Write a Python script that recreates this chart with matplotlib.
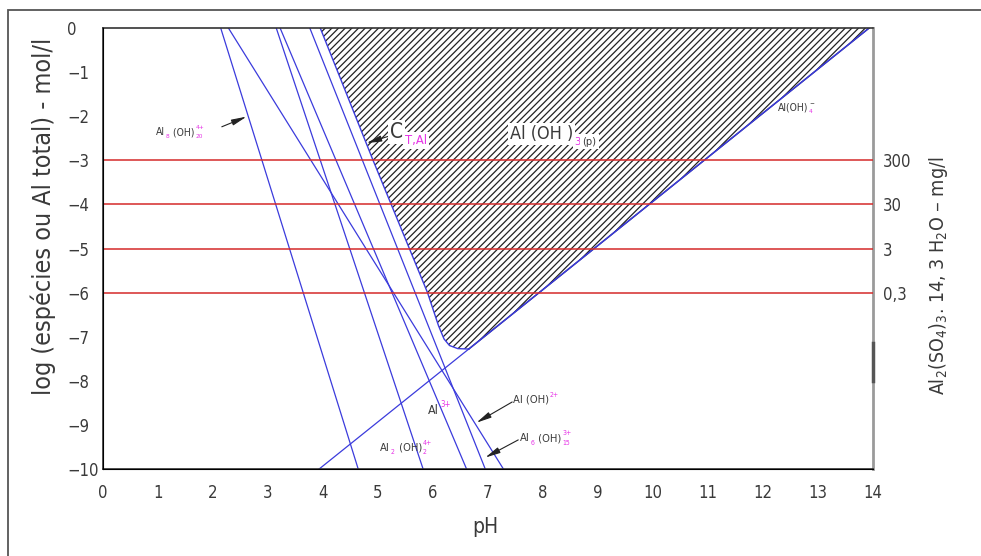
import matplotlib.pyplot as plt
from matplotlib import transforms, font_manager
from matplotlib.patches import Rectangle

names = {f.name for f in font_manager.fontManager.ttflist}
font = 'Liberation Sans Narrow' if 'Liberation Sans Narrow' in names else 'DejaVu Sans'
plt.rcParams['font.family'] = [font, 'DejaVu Sans']
plt.rcParams['font.stretch'] = 'condensed'
plt.rcParams['mathtext.default'] = 'regular'
plt.rcParams['hatch.linewidth'] = 0.9

# pH onde cada linha corta log = 0 e log = -10
ends_log = [0, -10]
al8_ph = [2.14, 4.64]
aloh_ph = [2.28, 7.28]
al2_ph = [3.15, 5.82]
al3_ph = [3.22, 6.61]
al6_ph = [3.76, 6.95]
aloh4_ph = [3.93, 13.93]
aloh4_log = [-10, 0]

# curva C_T,Al (limite da zona Al(OH)3)
ct_ph = [3.95, 4.91, 5.9, 6.1, 6.2, 6.3, 6.45, 6.65, 13.93]
ct_log = [0, -3, -6, -6.75, -7.05, -7.2, -7.27, -7.28, 0]

red_levels = [-3, -4, -5, -6]
red_labels = ['300', '30', '3', '0,3']

xticks = list(range(0, 15))
yticks = list(range(0, -11, -1))

blue = '#3b3bdc'
navy = '#26268c'
red = '#d42a2a'
txt = '#3a3a3a'
mag = '#e632e6'

fig = plt.figure(figsize=(9.81, 5.56), dpi=100)
ax = fig.add_axes([103 / 981, 87 / 556, 770 / 981, 441 / 556])
ax.set_xlim(0, 14)
ax.set_ylim(-10, 0)

ax.fill(ct_ph, ct_log, facecolor='none', edgecolor='#222222', hatch='/////', lw=0, zorder=1)
ax.plot(ct_ph[:-1], ct_log[:-1], color=blue, lw=1, zorder=2)
ax.plot(ct_ph[-2:], ct_log[-2:], color=navy, lw=1.1, zorder=2)

for ph in [al8_ph, aloh_ph, al2_ph, al3_ph, al6_ph]:
    ax.plot(ph, ends_log, color=blue, lw=0.9, zorder=2)
ax.plot(aloh4_ph, aloh4_log, color=blue, lw=0.9, zorder=2)

ax.hlines(red_levels, 0, 14, color=red, lw=1.1, zorder=3)

ax.set_xticks(xticks)
ax.set_yticks(yticks)
ax.tick_params(length=0, labelsize=12, labelcolor=txt)
ax.tick_params(axis='x', pad=11)
ax.tick_params(axis='y', pad=26)
for lab in ax.get_yticklabels():
    lab.set_horizontalalignment('left')

for s in ['left', 'bottom', 'top']:
    ax.spines[s].set_color('#333333')
    ax.spines[s].set_linewidth(1.2)
ax.spines['right'].set_color('#9a9a9a')
ax.spines['right'].set_linewidth(2)
ax.plot([14, 14], [-7.15, -8.0], color='#555555', lw=2.5, clip_on=False, zorder=5)

ax2 = ax.twinx()
ax2.set_ylim(-10, 0)
ax2.set_yticks(red_levels, red_labels)
ax2.tick_params(length=0, labelsize=12, labelcolor=txt, pad=7)
ax2.spines['right'].set_visible(False)
ax2.spines['top'].set_visible(False)

fig.text(43 / 981, 1 - 216 / 556, 'log (espécies ou Al total) - mol/l', rotation=90,
         ha='center', va='center', fontsize=18, color=txt)
fig.text(938 / 981, 1 - 276 / 556, 'Al$_2$(SO$_4$)$_3$. 14, 3 H$_2$O – mg/l', rotation=90,
         ha='center', va='center', fontsize=14, color=txt)
fig.text(485 / 981, 1 - 527 / 556, 'pH', ha='center', va='center', fontsize=15, color=txt)

fig.add_artist(Rectangle((8 / 981, -0.05), 2, 1.05 - 10 / 556, transform=fig.transFigure,
                         fill=False, ec='#555555', lw=1.3))

r = fig.canvas.get_renderer()


def chem(x, y, parts, fs, box=False):
    dx = 0
    for text, pos, col in parts:
        hold = pos.endswith('*')
        pos = pos.rstrip('*')
        size = fs if pos == 'n' else fs * 0.62
        dy = {'n': 0, 'b': -0.3 * fs, 'p': 0.55 * fs}[pos]
        tr = transforms.offset_copy(ax.transData, fig=fig, x=dx, y=dy, units='points')
        t = ax.text(x, y, text, transform=tr, fontsize=size, color=col,
                    ha='left', va='baseline', zorder=6)
        if box:
            t.set_bbox(dict(facecolor='white', edgecolor='none', pad=1.5))
        if not hold:
            dx += t.get_window_extent(r).width * 72 / fig.dpi + 0.08 * fs


chem(0.96, -2.43, [('Al', 'n', txt), ('8', 'b', mag), (' (OH)', 'n', txt),
                   ('4+', 'p*', mag), ('20', 'b', mag)], 7.5)
chem(5.22, -2.49, [('C', 'n', txt), ('T,Al', 'b', mag)], 15, box=True)
chem(7.4, -2.52, [('Al (OH )', 'n', txt), ('3', 'b', mag), ('(p)', 'b', txt)], 13, box=True)
chem(12.27, -1.86, [('Al(OH)', 'n', txt), ('−', 'p*', txt), ('4', 'b', mag)], 7.5)
chem(5.91, -8.75, [('Al', 'n', txt), ('3+', 'p', mag)], 9)
chem(5.04, -9.59, [('Al', 'n', txt), ('2', 'b', mag), (' (OH)', 'n', txt),
                   ('4+', 'p*', mag), ('2', 'b', mag)], 8)
chem(7.45, -8.5, [('Al (OH)', 'n', txt), ('2+', 'p', mag)], 8)
chem(7.58, -9.37, [('Al', 'n', txt), ('6', 'b', mag), (' (OH)', 'n', txt),
                   ('3+', 'p*', mag), ('15', 'b', mag)], 8)

arrows = [((2.16, -2.24), (2.61, -2.01)),
          ((5.18, -2.46), (4.79, -2.61)),
          ((7.44, -8.48), (6.79, -8.95)),
          ((7.55, -9.34), (6.95, -9.74))]
for tail, tip in arrows:
    ax.annotate('', xy=tip, xytext=tail,
                arrowprops=dict(arrowstyle='-|>,head_length=0.9,head_width=0.18',
                                color='#222222', lw=0.8, shrinkA=0, shrinkB=0))

fig.savefig('out.png', dpi=100)
